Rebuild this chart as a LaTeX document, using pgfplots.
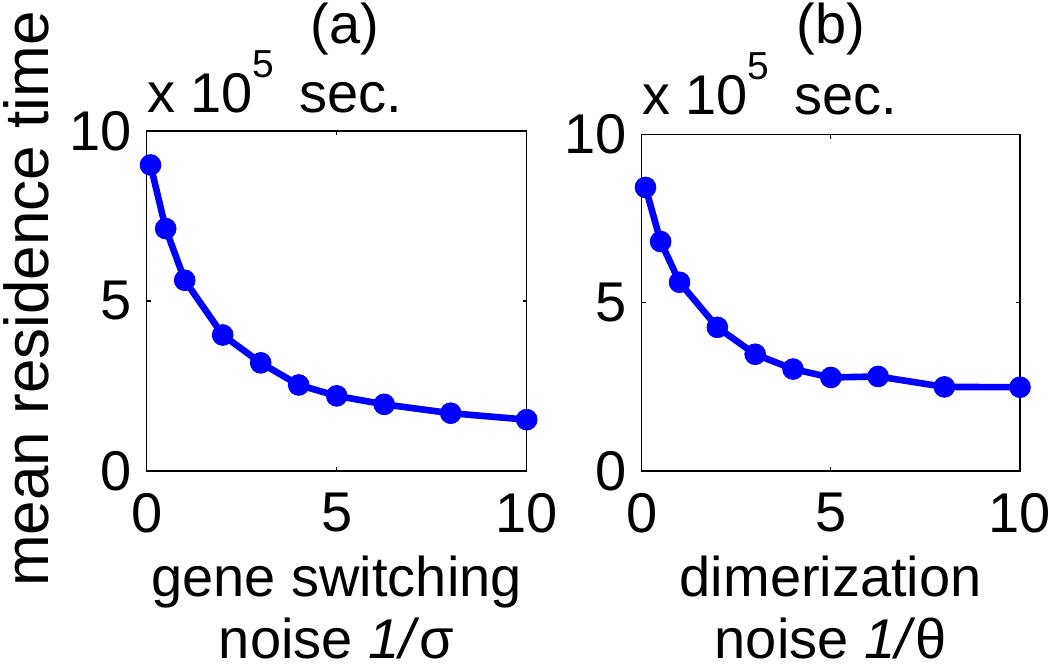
\documentclass[border=0pt]{standalone}
\usepackage{fontspec}
\setmainfont{Liberation Sans}
\usepackage{pgfplots}
\pgfplotsset{compat=1.18}
\begin{document}
\fontsize{28}{33}\selectfont
\begin{tikzpicture}
\useasboundingbox (0pt,0pt) rectangle (525pt,334.5pt);
\pgfplotsset{myax/.style={
  scale only axis, anchor=south west,
  xmin=0, xmax=10, ymin=0, ymax=10,
  xtick={0,5,10}, ytick={0,5,10},
  tick align=inside, major tick length=2pt,
  axis line style={line width=0.6pt},
  every tick/.style={black, line width=0.6pt},
  /pgf/number format/assume math mode=true,
  tick label style={font=\fontsize{28}{33}\selectfont},
  yticklabel style={anchor=east, inner sep=0pt, xshift=-7.3pt},
  xticklabel style={anchor=north, inner sep=0pt, yshift=-11pt},
  clip=false},
  myplot/.style={color=blue, line width=3.3pt, mark=*, mark size=5.2pt,
  mark options={solid, fill=blue, draw=blue, line width=0.4pt}}}

\begin{axis}[myax, at={(73.35pt,99pt)}, width=190pt, height=170pt]
\addplot[myplot] coordinates {(0.1,9.0) (0.5,7.13) (1,5.61) (2,4.0) (3,3.18) (4,2.53) (5,2.21) (6.25,1.96) (8,1.70) (10,1.51)};
\end{axis}

\begin{axis}[myax, at={(320.85pt,99pt)}, width=189.15pt, height=168.2pt]
\addplot[myplot] coordinates {(0.1,8.43) (0.5,6.82) (1,5.61) (2,4.27) (3,3.47) (4,3.03) (5,2.78) (6.25,2.81) (8,2.50) (10,2.49)};
\end{axis}

% titles
\node[anchor=base, inner sep=0pt] at (172.5pt,312.5pt) {(a)};
\node[anchor=base, inner sep=0pt] at (415.4pt,312.5pt) {(b)};
% exponent labels
\node[anchor=base west, inner sep=0pt] at (73.35pt,278pt) {x 10\raisebox{17.5pt}{\fontsize{19.5}{20}\selectfont 5}\hspace{12.5pt}sec.};
\node[anchor=base west, inner sep=0pt] at (320.85pt,277pt) {x 10\raisebox{17.5pt}{\fontsize{19.5}{20}\selectfont 5}\hspace{12.5pt}sec.};
% y label
\node[rotate=90, anchor=base, inner sep=0pt, font=\fontsize{31}{36}\selectfont] at (24.5pt,185pt) {mean residence time};
% x labels
\node[anchor=base, inner sep=0pt] at (168.35pt,36pt) {gene switching};
\node[anchor=base, inner sep=0pt] at (168.35pt,5pt) {noise \textit{1/}σ};
\node[anchor=base, inner sep=0pt] at (415.4pt,36pt) {dimerization};
\node[anchor=base, inner sep=0pt] at (415.4pt,5pt) {noise \textit{1/}θ};
\end{tikzpicture}
\end{document}
